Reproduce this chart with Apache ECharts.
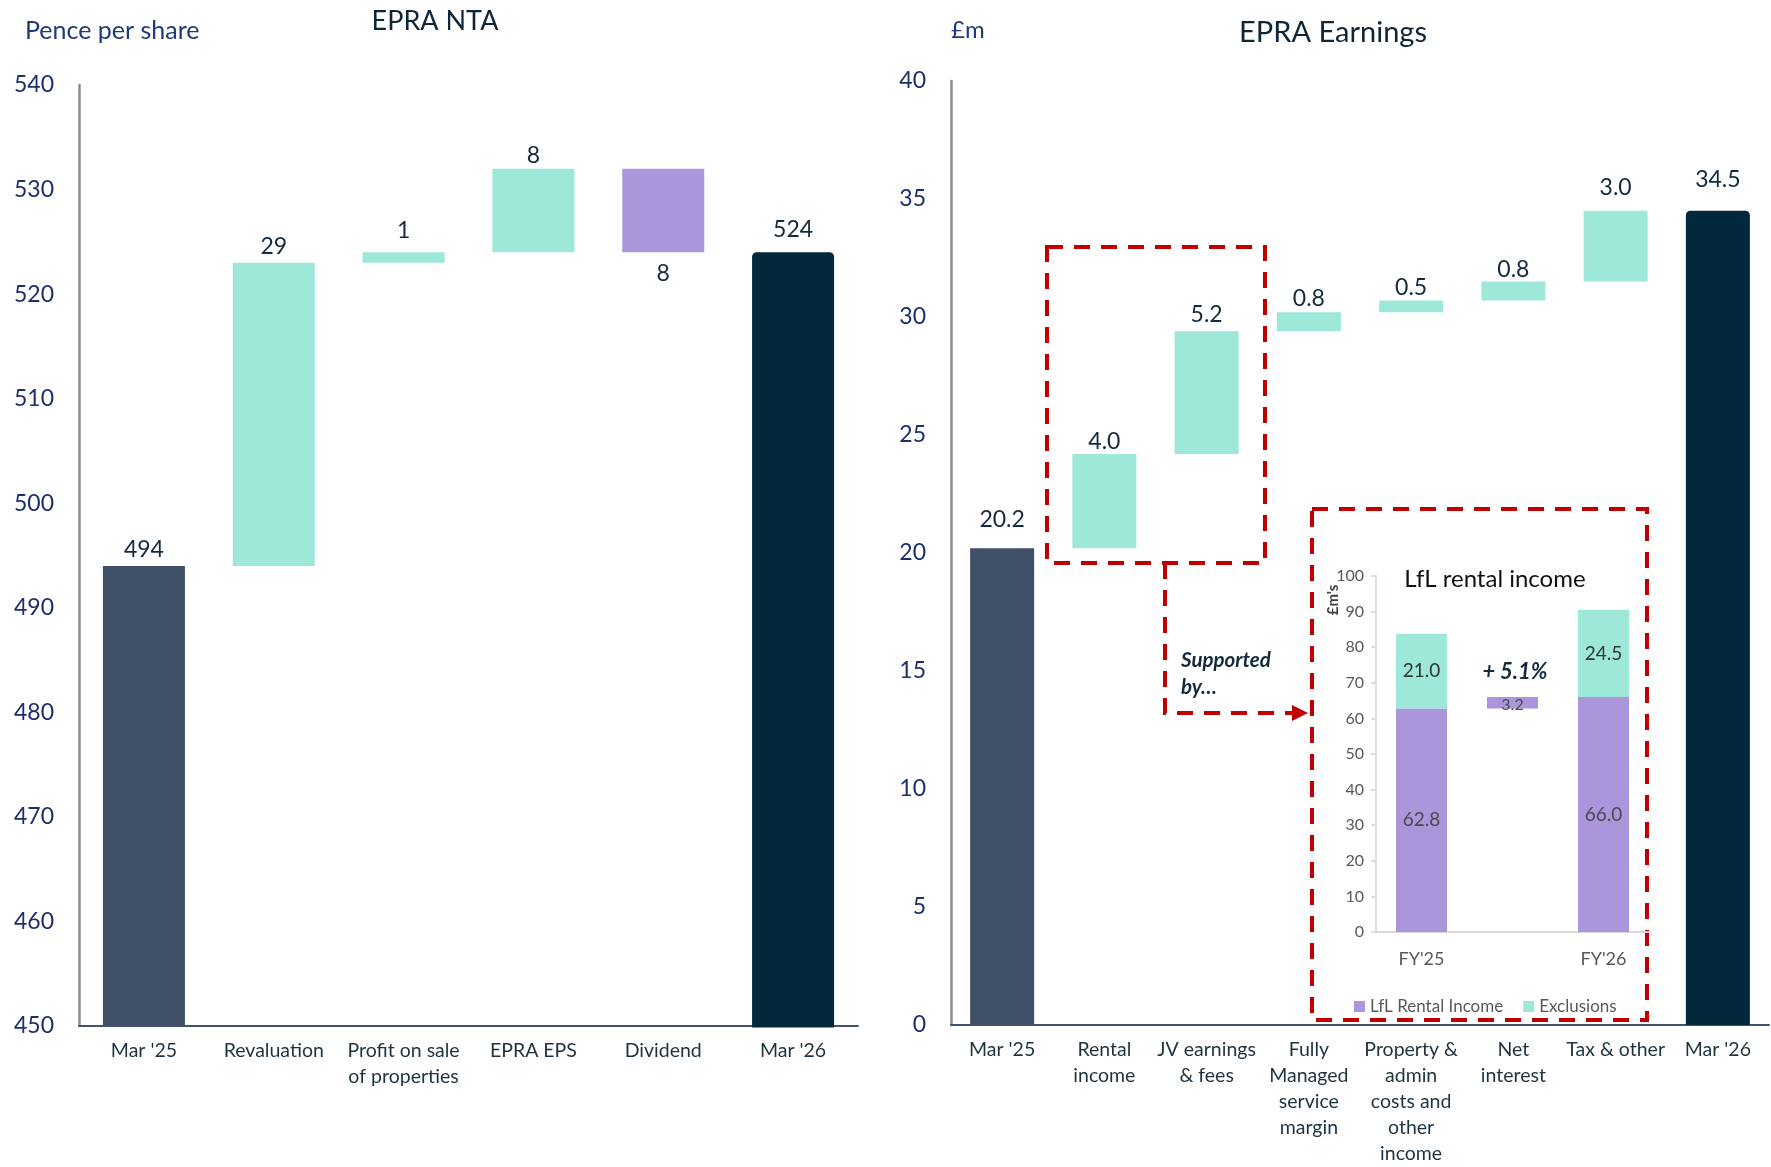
<!DOCTYPE html>
<html>
<head>
<meta charset="utf-8">
<script src="https://cdn.jsdelivr.net/npm/echarts/dist/echarts.min.js"></script>
<style>
  html, body { margin: 0; padding: 0; background: #ffffff; }
  #chart { width: 1771px; height: 1167px; }
</style>
</head>
<body>
<div id="chart"></div>
<script>
// ---------------- DATA ----------------
const ntaCategories = ["Mar '25", 'Revaluation', 'Profit on sale\nof properties', 'EPRA EPS', 'Dividend', "Mar '26"];
const ntaValues = [494, 29, 1, 8, -8, 524];
const ntaIsTotal = [true, false, false, false, false, true];
const ntaAxis = [450, 540, 10]; // min, max, step

const earnCategories = ["Mar '25", 'Rental\nincome', 'JV earnings\n& fees', 'Fully\nManaged\nservice\nmargin',
  'Property &\nadmin\ncosts and\nother\nincome', 'Net\ninterest', 'Tax & other', "Mar '26"];
const earnValues = [20.2, 4.0, 5.2, 0.8, 0.5, 0.8, 3.0, 34.5];
const earnIsTotal = [true, false, false, false, false, false, false, true];
const earnAxis = [0, 40, 5];

const insetCategories = ["FY'25", '', "FY'26"];
const lflIncome = [62.8, 66.0];
const exclusions = [21.0, 24.5];
const lflGrowthPct = 5.1;
const insetAxis = [0, 100, 10];

// ---------------- STYLE ----------------
const FONT = 'Lato';
const C = {
  start: '#415069', end: '#03283C', up: '#9DE8D8', down: '#AB96DC',
  label: '#13293d', tick: '#1c2f6b', cat: '#1d3340', title: '#0f2636',
  red: '#C00000', grey: '#595959'
};
// label distance from bar (px), per category
const ntaLabelGap = [5, 5, 10, 2, 10, 11];
const earnLabelGap = [17, 1, 5, 2, 1, 1, 12, 20];

function waterfall(values, isTotal, decimals, labelSize, gaps) {
  let run = 0;
  const base = [], bars = [];
  values.forEach((v, i) => {
    let kind, h;
    if (isTotal[i]) { base.push(0); h = v; kind = i === 0 ? 'start' : 'end'; run = v; }
    else if (v >= 0) { base.push(run); h = v; kind = 'up'; run += v; }
    else { run += v; base.push(run); h = -v; kind = 'down'; }
    const item = {
      value: h,
      itemStyle: { color: C[kind] },
      label: {
        show: true,
        position: kind === 'down' ? 'bottom' : 'top',
        distance: gaps[i],
        formatter: Math.abs(v).toFixed(decimals),
        color: C.label, fontFamily: FONT, fontSize: labelSize
      }
    };
    if (kind === 'end') {
      item.itemStyle.borderColor = C.end;
      item.itemStyle.borderWidth = 3;
      item.itemStyle.borderRadius = [3, 3, 0, 0];
    }
    bars.push(item);
  });
  return { base, bars };
}

const nta = waterfall(ntaValues, ntaIsTotal, 0, 23, ntaLabelGap);
const earn = waterfall(earnValues, earnIsTotal, 1, 23, earnLabelGap);

const insetBase = [0, lflIncome[0], 0];
const lflDelta = +(lflIncome[1] - lflIncome[0]).toFixed(1);
const insetLabel = { show: true, position: 'inside', color: '#4a4a4a', fontFamily: FONT, fontSize: 19,
  formatter: p => Number(p.value).toFixed(1) };
const insetLfl = [
  { value: lflIncome[0], label: insetLabel },
  { value: lflDelta, label: Object.assign({}, insetLabel, { fontSize: 16, offset: [0, 2] }) },
  { value: lflIncome[1], label: insetLabel }
];
const insetExcl = [
  { value: exclusions[0], label: Object.assign({}, insetLabel, { color: '#333333' }) },
  '-',
  { value: exclusions[1], label: Object.assign({}, insetLabel, { color: '#333333' }) }
];

function catAxis(idx, data) {
  return {
    type: 'category', gridIndex: idx, data: data,
    axisLine: { lineStyle: { color: '#44546a', width: 2 } },
    axisTick: { show: false },
    axisLabel: { interval: 0, color: C.cat, fontFamily: FONT, fontSize: 19.5, lineHeight: 26, margin: 12 }
  };
}
function valAxis(idx, ax) {
  return {
    type: 'value', gridIndex: idx, min: ax[0], max: ax[1], interval: ax[2],
    splitLine: { show: false },
    axisLine: { show: true, lineStyle: { color: '#8c8c8c', width: 2.5 } },
    axisTick: { show: false },
    axisLabel: { color: C.tick, fontFamily: FONT, fontSize: 23, margin: 25 }
  };
}

const chart = echarts.init(document.getElementById('chart'), null, { renderer: 'canvas' });

const option = {
  backgroundColor: '#ffffff',
  animation: false,
  textStyle: { fontFamily: FONT },
  grid: [
    { left: 79, top: 85, width: 779, height: 941 },
    { left: 951, top: 81, width: 818, height: 945 },
    { left: 1376, top: 576, width: 273, height: 356 }
  ],
  xAxis: [
    catAxis(0, ntaCategories),
    catAxis(1, earnCategories),
    {
      type: 'category', gridIndex: 2, data: insetCategories,
      axisLine: { lineStyle: { color: '#d9d9d9', width: 2 } },
      axisTick: { show: false },
      axisLabel: { interval: 0, color: C.grey, fontFamily: FONT, fontSize: 18, margin: 18 }
    }
  ],
  yAxis: [
    valAxis(0, ntaAxis),
    valAxis(1, earnAxis),
    {
      type: 'value', gridIndex: 2, min: insetAxis[0], max: insetAxis[1], interval: insetAxis[2],
      splitLine: { show: false },
      axisLine: { show: true, lineStyle: { color: '#d9dde8', width: 2 } },
      axisTick: { show: true, length: 5, lineStyle: { color: '#d9dde8', width: 2 } },
      axisLabel: { color: C.grey, fontFamily: FONT, fontSize: 16, margin: 12 }
    }
  ],
  legend: {
    data: ['LfL Rental Income', 'Exclusions'],
    left: 1349, top: 993,
    icon: 'rect', itemWidth: 11, itemHeight: 11, itemGap: 20,
    textStyle: { color: C.grey, fontFamily: FONT, fontSize: 17 },
    selectedMode: false
  },
  series: [
    { name: 'ntaBase', type: 'bar', xAxisIndex: 0, yAxisIndex: 0, stack: 'nta', data: nta.base,
      itemStyle: { color: 'transparent' }, barWidth: 82, silent: true },
    { name: 'EPRA NTA', type: 'bar', xAxisIndex: 0, yAxisIndex: 0, stack: 'nta', data: nta.bars, barWidth: 82 },
    { name: 'earnBase', type: 'bar', xAxisIndex: 1, yAxisIndex: 1, stack: 'earn', data: earn.base,
      itemStyle: { color: 'transparent' }, barWidth: 64, silent: true },
    { name: 'EPRA Earnings', type: 'bar', xAxisIndex: 1, yAxisIndex: 1, stack: 'earn', data: earn.bars, barWidth: 64 },
    { name: 'insetBase', type: 'bar', xAxisIndex: 2, yAxisIndex: 2, stack: 'inset', data: insetBase,
      itemStyle: { color: 'transparent' }, barWidth: 51, silent: true },
    { name: 'LfL Rental Income', type: 'bar', xAxisIndex: 2, yAxisIndex: 2, stack: 'inset', data: insetLfl,
      itemStyle: { color: C.down }, barWidth: 51 },
    { name: 'Exclusions', type: 'bar', xAxisIndex: 2, yAxisIndex: 2, stack: 'inset', data: insetExcl,
      itemStyle: { color: C.up }, barWidth: 51 }
  ],
  graphic: [
    { type: 'text', left: 25, top: 18, style: { text: 'Pence per share', fill: '#1f3a7a', font: '25px ' + FONT } },
    { type: 'text', x: 435, y: 21, style: { text: 'EPRA NTA', fill: C.title, font: '27px ' + FONT, textAlign: 'center', textVerticalAlign: 'middle' } },
    { type: 'text', left: 951, top: 18, style: { text: '£m', fill: '#1f3a7a', font: '24px ' + FONT } },
    { type: 'text', x: 1333, y: 33, style: { text: 'EPRA Earnings', fill: C.title, font: '29px ' + FONT, textAlign: 'center', textVerticalAlign: 'middle' } },
    // annotation boxes
    { type: 'rect', shape: { x: 1047, y: 247, width: 218, height: 316 },
      style: { fill: 'none', stroke: C.red, lineWidth: 4, lineDash: [16, 11] } },
    { type: 'polyline', shape: { points: [[1165, 563], [1165, 713], [1293, 713]] },
      style: { fill: 'none', stroke: C.red, lineWidth: 4, lineDash: [16, 11] } },
    { type: 'polygon', shape: { points: [[1292, 705], [1308, 713], [1292, 721]] }, style: { fill: C.red } },
    { type: 'text', x: 1181, y: 660, style: { text: 'Supported', fill: C.label, font: 'italic bold 20.5px ' + FONT, textVerticalAlign: 'middle' } },
    { type: 'text', x: 1181, y: 687, style: { text: 'by…', fill: C.label, font: 'italic bold 20.5px ' + FONT, textVerticalAlign: 'middle' } },
    { type: 'rect', shape: { x: 1312, y: 509, width: 335, height: 511 },
      style: { fill: 'none', stroke: C.red, lineWidth: 4, lineDash: [16, 11] } },
    { type: 'text', x: 1495, y: 579, style: { text: 'LfL rental income', fill: '#111111', font: '24px ' + FONT, textAlign: 'center', textVerticalAlign: 'middle' } },
    { type: 'text', x: 1515, y: 672, style: { text: '+ ' + lflGrowthPct.toFixed(1) + '%', fill: C.label, font: 'italic bold 22px ' + FONT, textAlign: 'center', textVerticalAlign: 'middle' } },
    { type: 'text', x: 1333, y: 600, rotation: Math.PI / 2, style: { text: "£m's", fill: '#404040', font: 'bold 15px ' + FONT, textAlign: 'center', textVerticalAlign: 'middle' } }
  ]
};

chart.setOption(option);
</script>
</body>
</html>
